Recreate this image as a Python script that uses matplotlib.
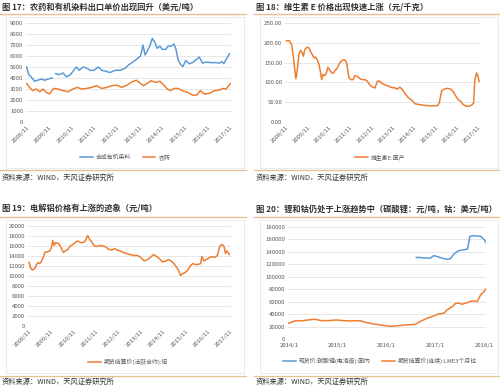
import matplotlib
matplotlib.use("Agg")
import matplotlib.pyplot as plt
import numpy as np
from matplotlib.lines import Line2D
from matplotlib.patches import Rectangle

plt.rcParams['font.family'] = ['Noto Sans CJK SC', 'DejaVu Sans']

# ---------------- data ----------------
titles = ["图 17：农药和有机染料出口单价出现回升（美元/吨）",
          "图 18：维生素 E 价格出现快速上涨（元/千克）",
          "图 19：电解铝价格有上涨的迹象（元/吨）",
          "图 20：锂和钴仍处于上涨趋势中（碳酸锂：元/吨，钴：美元/吨）"]
source_text = "资料来源：WIND，天风证券研究所"

year_ticks = [2008, 2009, 2010, 2011, 2012, 2013, 2014, 2015, 2016, 2017]
year_tick_labels = [f"{y}/11" for y in year_ticks]

# Panel 1: 合成有机染料 / 农药 (美元/吨)
dye_t = [2008.83, 2008.92, 2009.03, 2009.18, 2009.32, 2009.47, 2009.62, 2009.77, 2009.96, 2010.03,
         2010.11, 2010.26, 2010.44, 2010.59, 2010.76, 2010.91, 2011.03, 2011.15, 2011.33, 2011.48,
         2011.63, 2011.80, 2012.00, 2012.15, 2012.34, 2012.52, 2012.74, 2012.96, 2013.19, 2013.34,
         2013.56, 2013.74, 2013.86, 2013.97, 2014.06, 2014.15, 2014.27, 2014.38, 2014.48, 2014.60,
         2014.72, 2014.82, 2014.97, 2015.09, 2015.22, 2015.34, 2015.43, 2015.52, 2015.64, 2015.74,
         2015.86, 2016.01, 2016.16, 2016.31, 2016.46, 2016.60, 2016.75, 2016.97, 2017.20, 2017.35,
         2017.45, 2017.54, 2017.64, 2017.79]
dye_v = [5000, 4300, 4100, 3700, 3800, 3900, 3800, 3900, 4000, np.nan,
         4400, 4300, 4450, 4100, 4300, 4700, 5000, 4700, 5000, 4900,
         4700, 4700, 5000, 4700, 4600, 4500, 4700, 4700, 4900, 5200,
         5500, 5800, 6000, 7000, 6100, 6400, 6900, 7600, 7300, 6700,
         6900, 6600, 6600, 6900, 6900, 7100, 6600, 5650, 5200, 5050,
         5600, 5300, 5400, 5650, 5900, 5350, 5450, 5400, 5400, 5350,
         5500, 5300, 5650, 6200]
pest_t = [2008.83, 2008.95, 2009.10, 2009.25, 2009.40, 2009.55, 2009.69, 2009.84, 2010.02, 2010.21,
          2010.44, 2010.66, 2010.88, 2011.06, 2011.26, 2011.48, 2011.70, 2011.92, 2012.15, 2012.37,
          2012.59, 2012.82, 2013.04, 2013.26, 2013.48, 2013.68, 2013.86, 2014.00, 2014.15, 2014.33,
          2014.52, 2014.72, 2014.90, 2015.04, 2015.19, 2015.34, 2015.52, 2015.71, 2015.94, 2016.16,
          2016.35, 2016.50, 2016.68, 2016.90, 2017.12, 2017.35, 2017.50, 2017.64, 2017.84]
pest_v = [3500, 3150, 2850, 3000, 2750, 3000, 2700, 2550, 3050, 3000,
          2850, 2750, 3000, 3150, 3000, 3050, 3150, 3300, 3050, 3150,
          3300, 3350, 3150, 3350, 3650, 3800, 3500, 3300, 3500, 3750,
          3600, 3700, 3350, 3000, 2850, 3050, 3050, 2850, 2700, 2450,
          2450, 2850, 2550, 2600, 2850, 2900, 3050, 3000, 3500]

# Panel 2: 维生素E:国产 (元/千克)
vite_t = [2008.83, 2008.97, 2009.07, 2009.15, 2009.21, 2009.27, 2009.33, 2009.41, 2009.49, 2009.57,
          2009.62, 2009.69, 2009.80, 2009.88, 2009.96, 2010.04, 2010.12, 2010.19, 2010.27, 2010.35,
          2010.41, 2010.48, 2010.54, 2010.62, 2010.70, 2010.77, 2010.85, 2010.95, 2011.04, 2011.10,
          2011.21, 2011.32, 2011.45, 2011.57, 2011.65, 2011.76, 2011.85, 2011.95, 2012.04, 2012.15,
          2012.28, 2012.39, 2012.51, 2012.62, 2012.73, 2012.86, 2012.98, 2013.09, 2013.20, 2013.32,
          2013.48, 2013.64, 2013.76, 2013.92, 2014.03, 2014.14, 2014.26, 2014.42, 2014.55, 2014.70,
          2014.86, 2015.05, 2015.28, 2015.52, 2015.75, 2015.91, 2015.99, 2016.05, 2016.11, 2016.22,
          2016.38, 2016.53, 2016.64, 2016.77, 2016.89, 2017.00, 2017.11, 2017.24, 2017.39, 2017.52,
          2017.60, 2017.66, 2017.74, 2017.80, 2017.86]
vite_v = [205, 205, 195, 166, 136, 109, 128, 170, 181, 174,
          166, 183, 189, 187, 178, 170, 162, 164, 157, 146,
          130, 107, 120, 117, 124, 138, 132, 124, 124, 130,
          136, 149, 156, 157, 149, 111, 107, 107, 117, 115,
          109, 107, 107, 103, 94, 88, 86, 103, 103, 97,
          93, 90, 87, 86, 83, 88, 82, 69, 61, 55,
          46, 44, 42, 41, 41, 41, 48, 65, 79, 83,
          85, 83, 77, 65, 56, 52, 44, 40, 40, 43,
          48, 107, 124, 117, 103]

# Panel 3: 电解铝 (元/吨)
alu_t = [2008.83, 2008.89, 2008.97, 2009.09, 2009.16, 2009.24, 2009.31, 2009.39, 2009.46, 2009.54,
         2009.65, 2009.74, 2009.80, 2009.89, 2009.95, 2010.02, 2010.14, 2010.22, 2010.29, 2010.37,
         2010.44, 2010.56, 2010.67, 2010.79, 2010.89, 2011.01, 2011.12, 2011.24, 2011.34, 2011.45,
         2011.54, 2011.65, 2011.75, 2011.87, 2011.99, 2012.17, 2012.29, 2012.40, 2012.55, 2012.65,
         2012.77, 2012.92, 2013.04, 2013.19, 2013.34, 2013.52, 2013.68, 2013.83, 2013.98, 2014.13,
         2014.25, 2014.40, 2014.50, 2014.65, 2014.80, 2014.95, 2015.06, 2015.18, 2015.30, 2015.40,
         2015.51, 2015.60, 2015.71, 2015.81, 2015.93, 2016.05, 2016.16, 2016.26, 2016.38, 2016.50,
         2016.56, 2016.65, 2016.76, 2016.91, 2017.01, 2017.13, 2017.25, 2017.36, 2017.46, 2017.55,
         2017.61, 2017.67, 2017.73, 2017.78]
alu_v = [12700, 11700, 11200, 11500, 12300, 12700, 12500, 13000, 13700, 14800,
         14800, 15000, 15300, 17100, 16100, 16700, 16500, 16000, 15300, 14700,
         15000, 15300, 16000, 16300, 16700, 17000, 16700, 16700, 17000, 18100,
         17300, 16700, 16000, 15900, 16100, 16000, 15700, 15300, 15200, 15500,
         15200, 15000, 14700, 14500, 14300, 14100, 14100, 13700, 13000, 13300,
         13700, 14300, 14000, 13500, 12800, 13000, 13300, 13000, 12500, 11900,
         11200, 10100, 10500, 10700, 11200, 12100, 12500, 12300, 12300, 12500,
         13900, 13000, 13300, 13700, 13900, 13700, 14100, 16000, 16300, 15900,
         14500, 15000, 14700, 14300]

# Panel 4: 碳酸锂 (元/吨) / LME钴 (美元/吨)
li_t = [2016.61, 2016.69, 2016.80, 2016.90, 2016.97, 2017.04, 2017.14, 2017.24, 2017.31, 2017.37,
        2017.42, 2017.48, 2017.59, 2017.66, 2017.71, 2017.79, 2017.93, 2018.00, 2018.05]
li_v = [131000, 131000, 130000, 130000, 134000, 132500, 130000, 128000, 129000, 135500,
        139000, 142000, 143500, 144500, 165000, 166000, 165000, 160000, 154000]
co_t = [2014.00, 2014.08, 2014.15, 2014.25, 2014.39, 2014.53, 2014.67, 2014.80, 2014.98, 2015.11,
        2015.25, 2015.46, 2015.59, 2015.73, 2015.87, 2016.01, 2016.11, 2016.25, 2016.38, 2016.52,
        2016.59, 2016.69, 2016.83, 2016.97, 2017.07, 2017.18, 2017.24, 2017.35, 2017.42, 2017.48,
        2017.55, 2017.66, 2017.76, 2017.86, 2017.93, 2018.00, 2018.05]
co_v = [25300, 28000, 29500, 29000, 30600, 31700, 29500, 29500, 30600, 29500,
        29000, 29500, 26300, 24200, 22600, 21000, 20500, 21500, 22600, 23100,
        23600, 28000, 33300, 37000, 40300, 41400, 46700, 52000, 57500, 57500,
        55900, 58600, 61300, 60200, 71000, 76300, 81700]
p4_ticks = [2014, 2015, 2016, 2017, 2018]
p4_tick_labels = ["2014/1", "2015/1", "2016/1", "2017/1", "2018/1"]

legend_1 = ["合成有机染料", "农药"]
legend_2 = ["维生素E:国产"]
legend_3 = ["期货结算价(活跃合约):铝"]
legend_4 = ["现货价:碳酸锂(电池级):国内", "期货结算价(连续):LME3个月钴"]

# ---------------- styles ----------------
BLUE = "#5b9bd5"
ORANGE = "#ed7d31"
TAN = "#e6c08e"
GRID = "#e3e3e3"
TXT = "#595959"
TITLE_C = "#333333"

W, H = 500, 386
fig = plt.figure(figsize=(W / 100, H / 100), dpi=100)


def fx(x):
    return x / W


def fy(y):
    return 1 - y / H


def add_ax(x0, y0, x1, y1):
    return fig.add_axes([fx(x0), fy(y1), fx(x1) - fx(x0), (y1 - y0) / H])


def frame(x0, x1, ytitle, yline, box_top, box_bot, yline2, ysrc, title):
    fig.text(fx(x0 + 2), fy(ytitle), title, fontsize=5.95, fontweight='bold',
             color=TITLE_C, va='center', ha='left')
    fig.add_artist(Line2D([fx(x0), fx(x1)], [fy(yline), fy(yline)], color=TAN, lw=1.0))
    fig.add_artist(Rectangle((fx(x0 + 6), fy(box_bot)), fx(x1 - x0 - 8), (box_bot - box_top) / H,
                             fill=False, edgecolor="#e6e6e6", lw=0.6))
    fig.add_artist(Line2D([fx(x0), fx(x1)], [fy(yline2), fy(yline2)], color=TAN, lw=0.9))
    fig.text(fx(x0 + 2), fy(ysrc), source_text, fontsize=5.2, color="#333333",
             va='center', ha='left')


def style_ax(ax, ymax, ystep, fmt):
    for s in ax.spines.values():
        s.set_visible(False)
    ax.set_ylim(0, ymax)
    ax.set_yticks(np.arange(0, ymax + 1e-9, ystep))
    ax.set_yticklabels([fmt(v) for v in np.arange(0, ymax + 1e-9, ystep)])
    ax.yaxis.grid(True, color=GRID, lw=0.6)
    ax.set_axisbelow(True)
    ax.tick_params(axis='both', length=0, labelsize=4.3, colors=TXT, pad=2)


def year_xaxis(ax, xmin, xmax):
    ax.set_xlim(xmin, xmax)
    ax.set_xticks([y + 10 / 12 for y in year_ticks])
    ax.set_xticklabels(year_tick_labels, rotation=45, ha='right', rotation_mode='anchor',
                       fontsize=4.3, color=TXT)


def add_legend(ax, handles, labels, xc, yc):
    fig.legend(handles, labels, loc='center', bbox_to_anchor=(fx(xc), fy(yc)), ncol=len(labels),
               frameon=False, fontsize=4.2, handlelength=2.2, columnspacing=2.0,
               labelcolor=TXT, handletextpad=0.5)


# ---- Panel 1 ----
frame(0, 246, 7, 14, 17, 168, 170, 178, titles[0])
ax1 = add_ax(26, 23, 231, 122)
l1, = ax1.plot(dye_t, dye_v, color=BLUE, lw=1.1)
l2, = ax1.plot(pest_t, pest_v, color=ORANGE, lw=1.1)
style_ax(ax1, 9000, 1000, lambda v: f"{int(v)}")
year_xaxis(ax1, 2008.80, 2017.86)
add_legend(ax1, [l1, l2], legend_1, 125, 157)

# ---- Panel 2 ----
frame(254, 500, 7, 14, 17, 168, 170, 178, titles[1])
ax2 = add_ax(285, 23, 480, 122)
l3, = ax2.plot(vite_t, vite_v, color=ORANGE, lw=1.1)
style_ax(ax2, 250, 50, lambda v: f"{v:.2f}")
year_xaxis(ax2, 2008.76, 2017.90)
add_legend(ax2, [l3], legend_2, 380, 157)

# ---- Panel 3 ----
frame(0, 246, 208, 217, 220, 373, 376, 382, titles[2])
ax3 = add_ax(28, 226, 231, 326)
l4, = ax3.plot(alu_t, alu_v, color=ORANGE, lw=1.1)
style_ax(ax3, 20000, 2000, lambda v: f"{int(v)}")
year_xaxis(ax3, 2008.78, 2017.86)
add_legend(ax3, [l4], legend_3, 128, 362)

# ---- Panel 4 ----
frame(254, 500, 209, 217, 220, 373, 376, 382, titles[3])
ax4 = add_ax(288, 227, 486, 339)
l5, = ax4.plot(li_t, li_v, color=BLUE, lw=1.1)
l6, = ax4.plot(co_t, co_v, color=ORANGE, lw=1.1)
style_ax(ax4, 180000, 20000, lambda v: f"{int(v)}")
ax4.set_xlim(2013.98, 2018.04)
ax4.set_xticks(p4_ticks)
ax4.set_xticklabels(p4_tick_labels, fontsize=4.3, color=TXT)
ax4.tick_params(axis='x', pad=3)
add_legend(ax4, [l5, l6], legend_4, 380, 361)

fig.savefig("out.png", dpi=100)
